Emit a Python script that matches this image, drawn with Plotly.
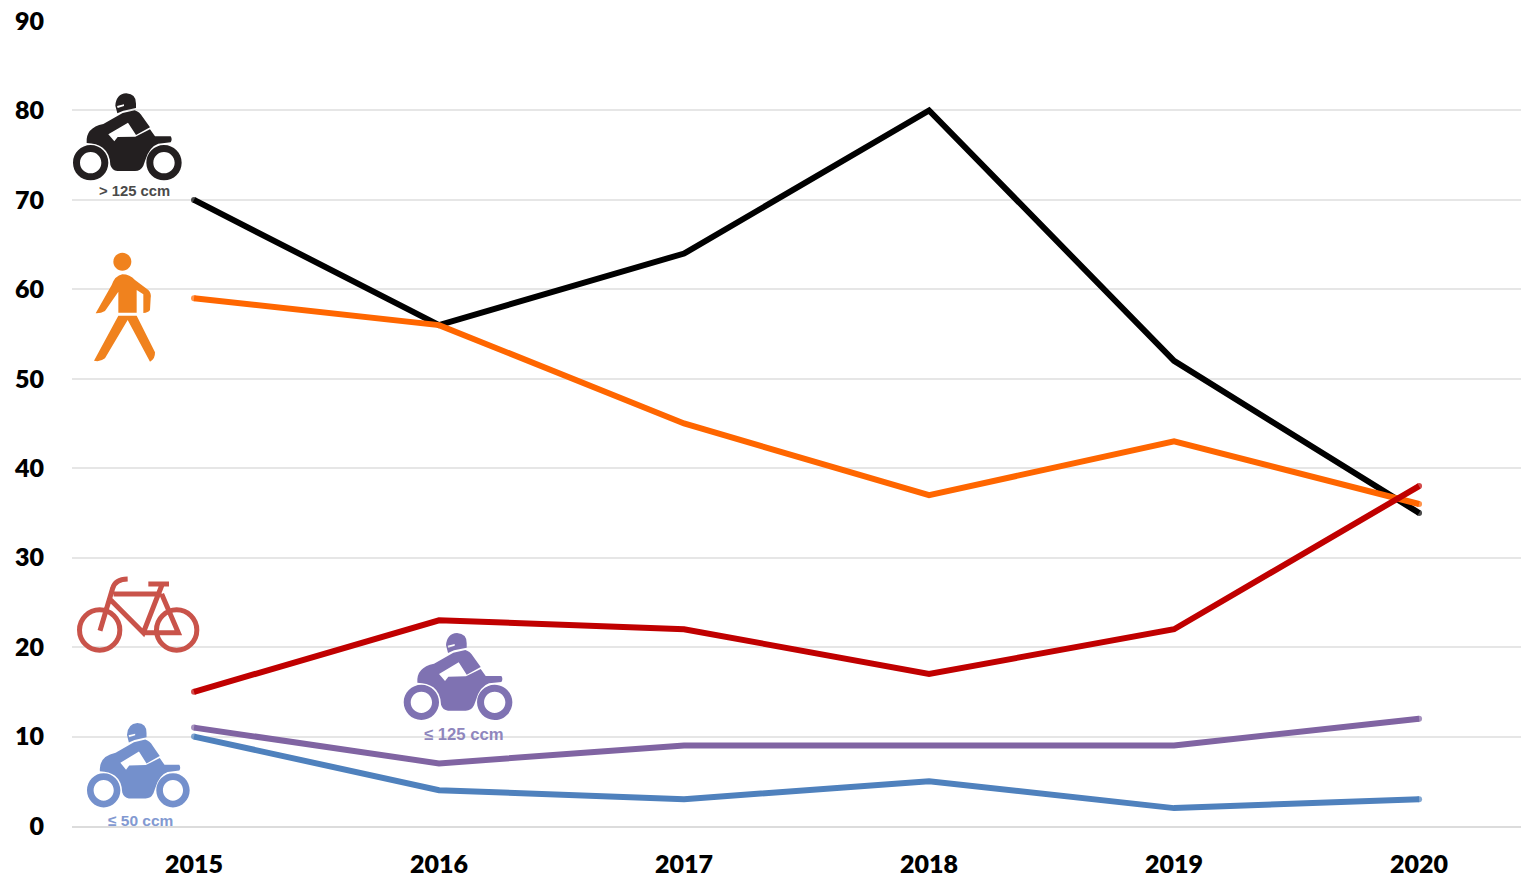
import re
import plotly.graph_objects as go

years = ["2015", "2016", "2017", "2018", "2019", "2020"]
over_125 = [70, 56, 64, 80, 52, 35]
pedestrians = [59, 56, 45, 37, 43, 36]
cyclists = [15, 23, 22, 17, 22, 38]
upto_125 = [11, 7, 9, 9, 9, 12]
upto_50 = [10, 4, 3, 5, 2, 3]
y_ticks = [0, 10, 20, 30, 40, 50, 60, 70, 80, 90]

W, H = 1521, 877
L, R, T, B = 72, 1521, 21, 826
FONT = "Lato, Carlito, sans-serif"


def circle(cx, cy, r):
    k = 0.5523 * r
    return (f"M {cx-r} {cy} C {cx-r} {cy-k} {cx-k} {cy-r} {cx} {cy-r} "
            f"C {cx+k} {cy-r} {cx+r} {cy-k} {cx+r} {cy} "
            f"C {cx+r} {cy+k} {cx+k} {cy+r} {cx} {cy+r} "
            f"C {cx-k} {cy+r} {cx-r} {cy+k} {cx-r} {cy} Z ")


MOTO_PARTS = [
    circle(92, 233, 53) + circle(92, 233, 32),
    circle(312, 233, 53) + circle(312, 233, 32),
    # helmet with visor slit
    "M 172 85 L 166 62 Q 168 27 199 25 Q 229 27 228 56 L 228 69 L 190 77 Z "
    "M 171 63 L 192 58 L 192 63 L 173 69 Z",
    # rider, fairing and machine
    "M 80 174 Q 76 128 130 117 L 188 84 L 224 76 Q 238 80 248 96 L 270 127 "
    "L 228 150 L 204 113 L 145 148 L 163 169 L 173 156 L 226 155 L 270 133 "
    "L 285 154 L 332 154 Q 338 163 332 172 L 295 176 Q 268 185 256 225 L 250 242 "
    "Q 242 258 225 258 L 172 258 Q 156 256 151 240 Q 150 205 128 188 Q 110 175 80 174 Z",
]
WALKER_PARTS = [
    circle(127, 50, 27),
    "M 127 88 Q 150 88 165 105 L 205 135 Q 215 145 212 160 L 210 195 Q 205 203 190 204 "
    "L 190 148 L 170 135 L 170 203 L 115 203 L 115 140 L 75 198 Q 62 206 47 205 L 95 120 "
    "Q 105 92 127 88 Z",
    "M 115 212 L 170 212 L 225 322 Q 226 342 210 350 L 143 225 L 75 340 Q 60 352 42 347 Z",
]
BIKE = (
    circle(104, 180, 60.5) + circle(335, 180, 60.5) +
    "M 105 182 L 143 55 Q 150 28 188 27 "
    "M 146 72 L 290 72 M 135 88 L 235 188 L 292 42 M 235 188 L 340 188 L 290 72 "
    "M 250 42 L 312 42"
)


def place(path, ox, oy, sx, sy):
    """Map an icon outline (3x zoom pixels) to paper coordinates."""
    nums = iter(range(10 ** 6))

    def repl(m):
        i = next(nums)
        v = float(m.group())
        if i % 2 == 0:
            return f"{((ox + v * sx) - L) / (R - L):.5f}"
        return f"{(B - (oy + v * sy)) / (B - T):.5f}"

    return re.sub(r"-?\d+\.?\d*", repl, path)


def icon(parts, ox, oy, sx, sy, color):
    return [dict(type="path", xref="paper", yref="paper", layer="above",
                 path=place(p, ox, oy, sx, sy), fillcolor=color,
                 line=dict(width=0, color=color)) for p in parts]


shapes = (
    icon(MOTO_PARTS, 60, 85, 1 / 3, 1 / 3, "#231F20")
    + icon(MOTO_PARTS, 390.7, 624.7, 1 / 3, 1 / 3, "#7F72B2")
    + icon(MOTO_PARTS, 74.7, 715, 0.945 / 3, 0.97 / 3, "#7490CC")
    + icon(WALKER_PARTS, 80, 245, 1 / 3, 1 / 3, "#F0821E")
    + [dict(type="path", xref="paper", yref="paper", layer="above",
            path=place(BIKE, 65, 570, 1 / 3, 1 / 3), fillcolor="rgba(0,0,0,0)",
            line=dict(width=5, color="#C9534A"))]
)


def caption(text, px, py, color, size):
    return dict(text=text, xref="paper", yref="paper", showarrow=False,
                x=(px - L) / (R - L), y=(B - py) / (B - T),
                xanchor="center", yanchor="middle",
                font=dict(family="Liberation Sans, Arial, sans-serif", size=size, color=color))


annotations = [
    caption("<b>&gt; 125 ccm</b>", 134.5, 191.5, "#4A4A4A", 14.8),
    caption("<b>≤ 125 ccm</b>", 464, 734, "#8F86BD", 16.7),
    caption("<b>≤ 50 ccm</b>", 140, 820.5, "#8299D1", 15.5),
]

fig = go.Figure()
series = [
    (upto_50, "#4F81BD", "≤ 50 ccm"),
    (upto_125, "#8064A2", "≤ 125 ccm"),
    (over_125, "#000000", "> 125 ccm"),
    (pedestrians, "#FF6600", "Fußgänger"),
    (cyclists, "#C00000", "Radfahrer"),
]
for vals, color, name in series:
    sizes = [6] + [0] * (len(vals) - 2) + [6]
    fig.add_trace(go.Scatter(x=years, y=vals, name=name, mode="lines+markers",
                             line=dict(color=color, width=6),
                             marker=dict(color=color, size=sizes, line=dict(width=0)),
                             cliponaxis=False))

fig.update_layout(
    width=W, height=H, autosize=False, showlegend=False,
    margin=dict(l=L, r=W - R, t=T, b=H - B, pad=0, autoexpand=False),
    paper_bgcolor="white", plot_bgcolor="white",
    font=dict(family=FONT, size=25, color="#000000"),
    shapes=shapes, annotations=annotations,
    xaxis=dict(type="category", range=[-0.498, 5.416], showgrid=False, automargin=False,
               showline=True, linecolor="#DCDCDC", linewidth=2, ticks="",
               ticklabelstandoff=15, tickfont=dict(family=FONT, size=25, weight=800)),
    yaxis=dict(range=[0, 90], tickvals=y_ticks, showgrid=True, gridcolor="#E6E6E6",
               gridwidth=2, zeroline=False, showline=False, ticks="", automargin=False,
               ticklabelstandoff=27, tickfont=dict(family=FONT, size=25, weight=800)),
)
fig.write_html("out.html", config=dict(displayModeBar=False),
               post_script="document.body.style.margin='0';document.documentElement.style.overflow='hidden';")
